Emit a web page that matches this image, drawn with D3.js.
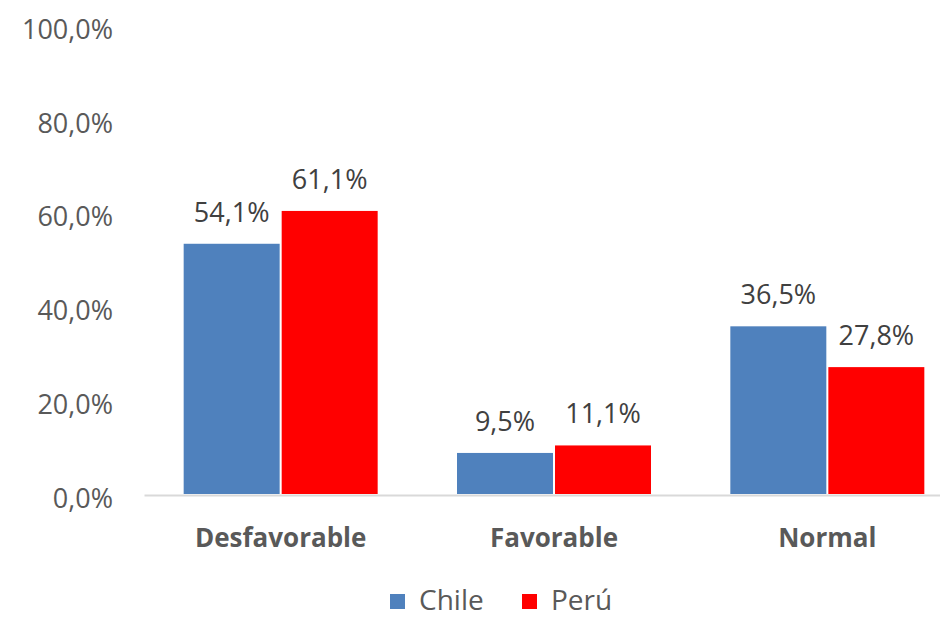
<!DOCTYPE html>
<html><head><meta charset="utf-8">
<script src="https://cdn.jsdelivr.net/npm/d3@7"></script>
<style>
html,body{margin:0;padding:0;background:#fff;overflow:hidden;}
svg{display:block;font-family:"Open Sans",sans-serif;}
</style></head>
<body><svg id="chart" width="940" height="618"></svg>
<script>
const categories = ["Desfavorable", "Favorable", "Normal"];
const seriesNames = ["Chile", "Perú"];
const chileValues = [54.1, 9.5, 36.5];
const peruValues = [61.1, 11.1, 27.8];
const yTicks = [0, 20, 40, 60, 80, 100];
const seriesColors = ["#4f81bd", "#ff0000"];

const locale = d3.formatLocale({decimal: ",", thousands: ".", grouping: [3], currency: ["", "€"]});
const fmt = v => locale.format(".1f")(v) + "%";

const svg = d3.select("#chart");
const axisY = 494;
const x = d3.scaleBand().domain(categories).range([144, 964]);
const y = d3.scaleLinear().domain([0, 100]).range([497.5, 28.5]);
const inner = d3.scaleBand().domain(seriesNames).range([-97, 97]).paddingInner(4/194);

const data = [chileValues, peruValues];

// y axis labels
const yAxis = d3.axisLeft(y).tickValues(yTicks).tickSize(0).tickPadding(0).tickFormat(fmt);
const gy = svg.append("g").attr("transform", "translate(113,0)").call(yAxis);
gy.select(".domain").remove();
gy.selectAll("text").attr("fill", "#595959").attr("font-size", 27)
  .attr("font-family", "'Open Sans',sans-serif").attr("dy", "0.36em");

// bars
seriesNames.forEach((s, si) => {
  svg.append("g").selectAll("rect").data(categories).join("rect")
    .attr("x", c => x(c) + x.bandwidth()/2 + inner(s))
    .attr("width", inner.bandwidth())
    .attr("y", (c, i) => y(data[si][i]))
    .attr("height", (c, i) => axisY - y(data[si][i]))
    .attr("fill", seriesColors[si]);
  svg.append("g").selectAll("text").data(categories).join("text")
    .attr("x", c => x(c) + x.bandwidth()/2 + inner(s) + inner.bandwidth()/2)
    .attr("y", (c, i) => y(data[si][i]) - 22)
    .attr("text-anchor", "middle")
    .attr("font-size", 27)
    .attr("fill", "#404040")
    .text((c, i) => fmt(data[si][i]));
});

// x axis
const xAxis = d3.axisBottom(x).tickSize(0).tickPadding(0).tickSizeOuter(0);
const gx = svg.append("g").attr("transform", `translate(0,${axisY + 1})`).call(xAxis);
gx.select(".domain").attr("stroke", "#d9d9d9").attr("stroke-width", 2);
gx.selectAll("text").attr("fill", "#595959").attr("font-size", 26).attr("font-weight", "bold")
  .attr("font-family", "'Open Sans',sans-serif").attr("dy", null).attr("y", 52);

// legend
const legendPos = [390, 522];
const lg = svg.append("g");
seriesNames.forEach((s, si) => {
  lg.append("rect").attr("x", legendPos[si]).attr("y", 594).attr("width", 15).attr("height", 15).attr("fill", seriesColors[si]);
  lg.append("text").attr("x", legendPos[si] + 29).attr("y", 610).attr("font-size", 28).attr("fill", "#595959").text(s);
});
</script></body></html>
